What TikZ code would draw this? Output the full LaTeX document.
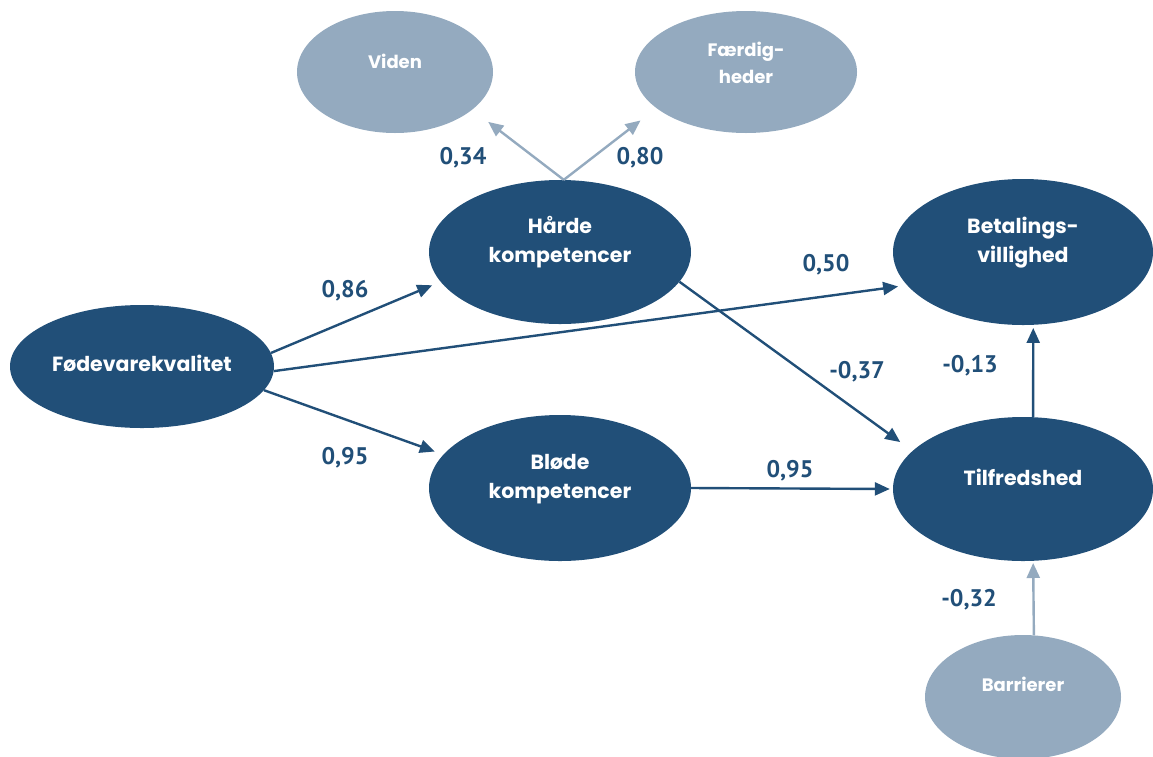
\documentclass[tikz,border=0pt]{standalone}
\usepackage{fontspec}
\setmainfont{Poppins}
\newfontfamily\numfont{PT Sans}
\usetikzlibrary{shapes.geometric,arrows.meta}

\definecolor{deepblue}{RGB}{33,79,120}
\definecolor{greyblue}{RGB}{148,170,191}

\tikzset{
  latent/.style={ellipse, fill=deepblue, text=white, inner sep=0pt, align=center,
    font=\bfseries\fontsize{20.5}{29}\selectfont},
  manifest/.style={ellipse, fill=greyblue, text=white, inner sep=0pt, align=center,
    font=\bfseries\fontsize{18}{27}\selectfont},
  lift/.style={text depth=#1},
  effect/.style={draw=deepblue, line width=2.4pt, -{Triangle[length=15pt,width=13pt]}},
  loading/.style={draw=greyblue, line width=2.4pt, -{Triangle[length=15pt,width=13pt]}},
  coef/.style={text=deepblue, font=\numfont\bfseries\fontsize{24}{28}\selectfont, inner sep=0pt}
}

\begin{document}
\begin{tikzpicture}[x=1pt,y=-1pt]
\useasboundingbox (0,0) rectangle (1153,756);

% constructs
\node[manifest, lift=22pt, minimum width=196, minimum height=122] (viden) at (395,72) {Viden};
\node[manifest, lift=18pt, minimum width=222, minimum height=122] (faerd) at (746,72) {Færdig-\\heder};
\node[latent, lift=25pt, minimum width=262, minimum height=144] (hard) at (560,252) {Hårde\\kompetencer};
\node[latent, lift=25pt, minimum width=260, minimum height=146] (betal) at (1023,252) {Betalings-\\villighed};
\node[latent, lift=6pt, minimum width=264, minimum height=123] (fode) at (142,366.5) {Fødevarekvalitet};
\node[latent, lift=23pt, minimum width=262, minimum height=146] (blode) at (560,488) {Bløde\\kompetencer};
\node[latent, lift=24pt, minimum width=260, minimum height=144] (tilf) at (1023,489) {Tilfredshed};
\node[manifest, lift=26pt, minimum width=196, minimum height=124] (barr) at (1023,697) {Barrierer};

% paths
\draw[loading, shorten >=20pt] (hard.87) -- (viden.-26);
\draw[loading, shorten >=20pt] (hard.87) -- (faerd.-158);
\draw[effect, shorten >=9pt] (fode.6.6) -- (hard.194.5);
\draw[effect, shorten >=9pt] (fode.-2) -- (betal.-164);
\draw[effect, shorten >=9pt] (fode.-11) -- (blode.164);
\draw[effect, shorten >=15pt] (hard.-14.7) -- (tilf.161.6);
\draw[effect, shorten >=3pt] (blode.east) -- (tilf.180);
\draw[effect, shorten >=3pt] (tilf.82) -- (betal.-82);
\draw[loading, shorten >=2pt] (barr.80) -- (tilf.-82);

% weights
\node[coef] (w1) at (463,158) {0,34};
\node[coef] (w2) at (640,158) {0,80};
\node[coef] (w3) at (345,291) {0,86};
\node[coef] (w4) at (826,265) {0,50};
\node[coef] (w5) at (857,372) {-0,37};
\node[coef] (w6) at (970,366) {-0,13};
\node[coef] (w7) at (345,458) {0,95};
\node[coef] (w8) at (790,471) {0,95};
\node[coef] (w9) at (969,600) {-0,32};
\end{tikzpicture}
\end{document}
